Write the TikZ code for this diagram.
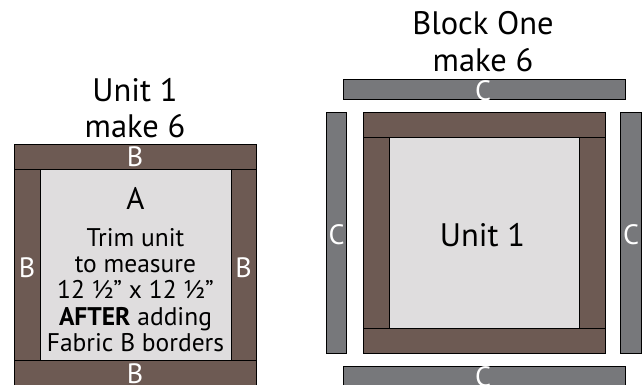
\documentclass[tikz,border=0pt]{standalone}
\usepackage{fontspec}
\setmainfont{PT Sans}
\definecolor{brownB}{HTML}{6D5A53}
\definecolor{grayC}{HTML}{77787B}
\definecolor{lightA}{HTML}{DFDDDE}
\begin{document}
\begin{tikzpicture}[x=1pt,y=-1pt,
  strip/.style={draw=black,line width=0.9pt,fill=brownB},
  cstrip/.style={draw=black,line width=0.9pt,fill=grayC},
  inner/.style={draw=black,line width=0.9pt,fill=lightA},
  lbl/.style={text=white,font=\fontsize{28}{28}\selectfont,inner sep=0pt},
  title/.style={font=\fontsize{32.5}{32.5}\selectfont,inner sep=0pt,anchor=base},
  body/.style={font=\fontsize{25.5}{26.3}\selectfont,align=center,inner sep=0pt}]
\useasboundingbox (0,0) rectangle (642,385);
\begin{scope}
\clip (0,0) rectangle (642,385);
% Left unit
\path[inner] (40,169) rectangle (231,360);
\path[strip] (14,169) rectangle (40,360);
\path[strip] (231,169) rectangle (256,360);
\path[strip] (14,144) rectangle (256,169);
\path[strip] (14,360) rectangle (256,386);
\node[title] (t1) at (135,101.5) {Unit 1};
\node[title] (t2) at (135,138) {make 6};
\node[lbl] (bt) at (135,157) {B};
\node[lbl] (bb) at (135,374) {B};
\node[lbl] (bl) at (27,268) {B};
\node[lbl] (br) at (243.5,268) {B};
\node[font=\fontsize{31}{31}\selectfont,inner sep=0pt] (a) at (135.5,198) {A};
\node[body] (txt) at (135.5,290) {Trim unit\\to measure\\12 ½” x 12 ½”\\\textbf{AFTER} adding\\Fabric B borders};
% Right block
\node[title] (t3) at (483,35) {Block One};
\node[title] (t4) at (483,72) {make 6};
\path[cstrip] (343,79) rectangle (625,99);
\path[cstrip] (326,112) rectangle (346.5,353);
\path[cstrip] (620.5,112) rectangle (641.5,353);
\path[cstrip] (343,366) rectangle (625,390);
\path[inner] (389,137) rectangle (579,328);
\path[strip] (363,137) rectangle (389,328);
\path[strip] (579,137) rectangle (605,328);
\path[strip] (363,112) rectangle (605,137);
\path[strip] (363,328) rectangle (605,353);
\node[title] (u1) at (482.5,246) {Unit 1};
\node[lbl] (ct) at (483,91) {C};
\node[lbl] (cb) at (483,377) {C};
\node[lbl] (cl) at (336.5,235) {C};
\node[lbl] (cr) at (631,235) {C};
\end{scope}
\end{tikzpicture}
\end{document}
